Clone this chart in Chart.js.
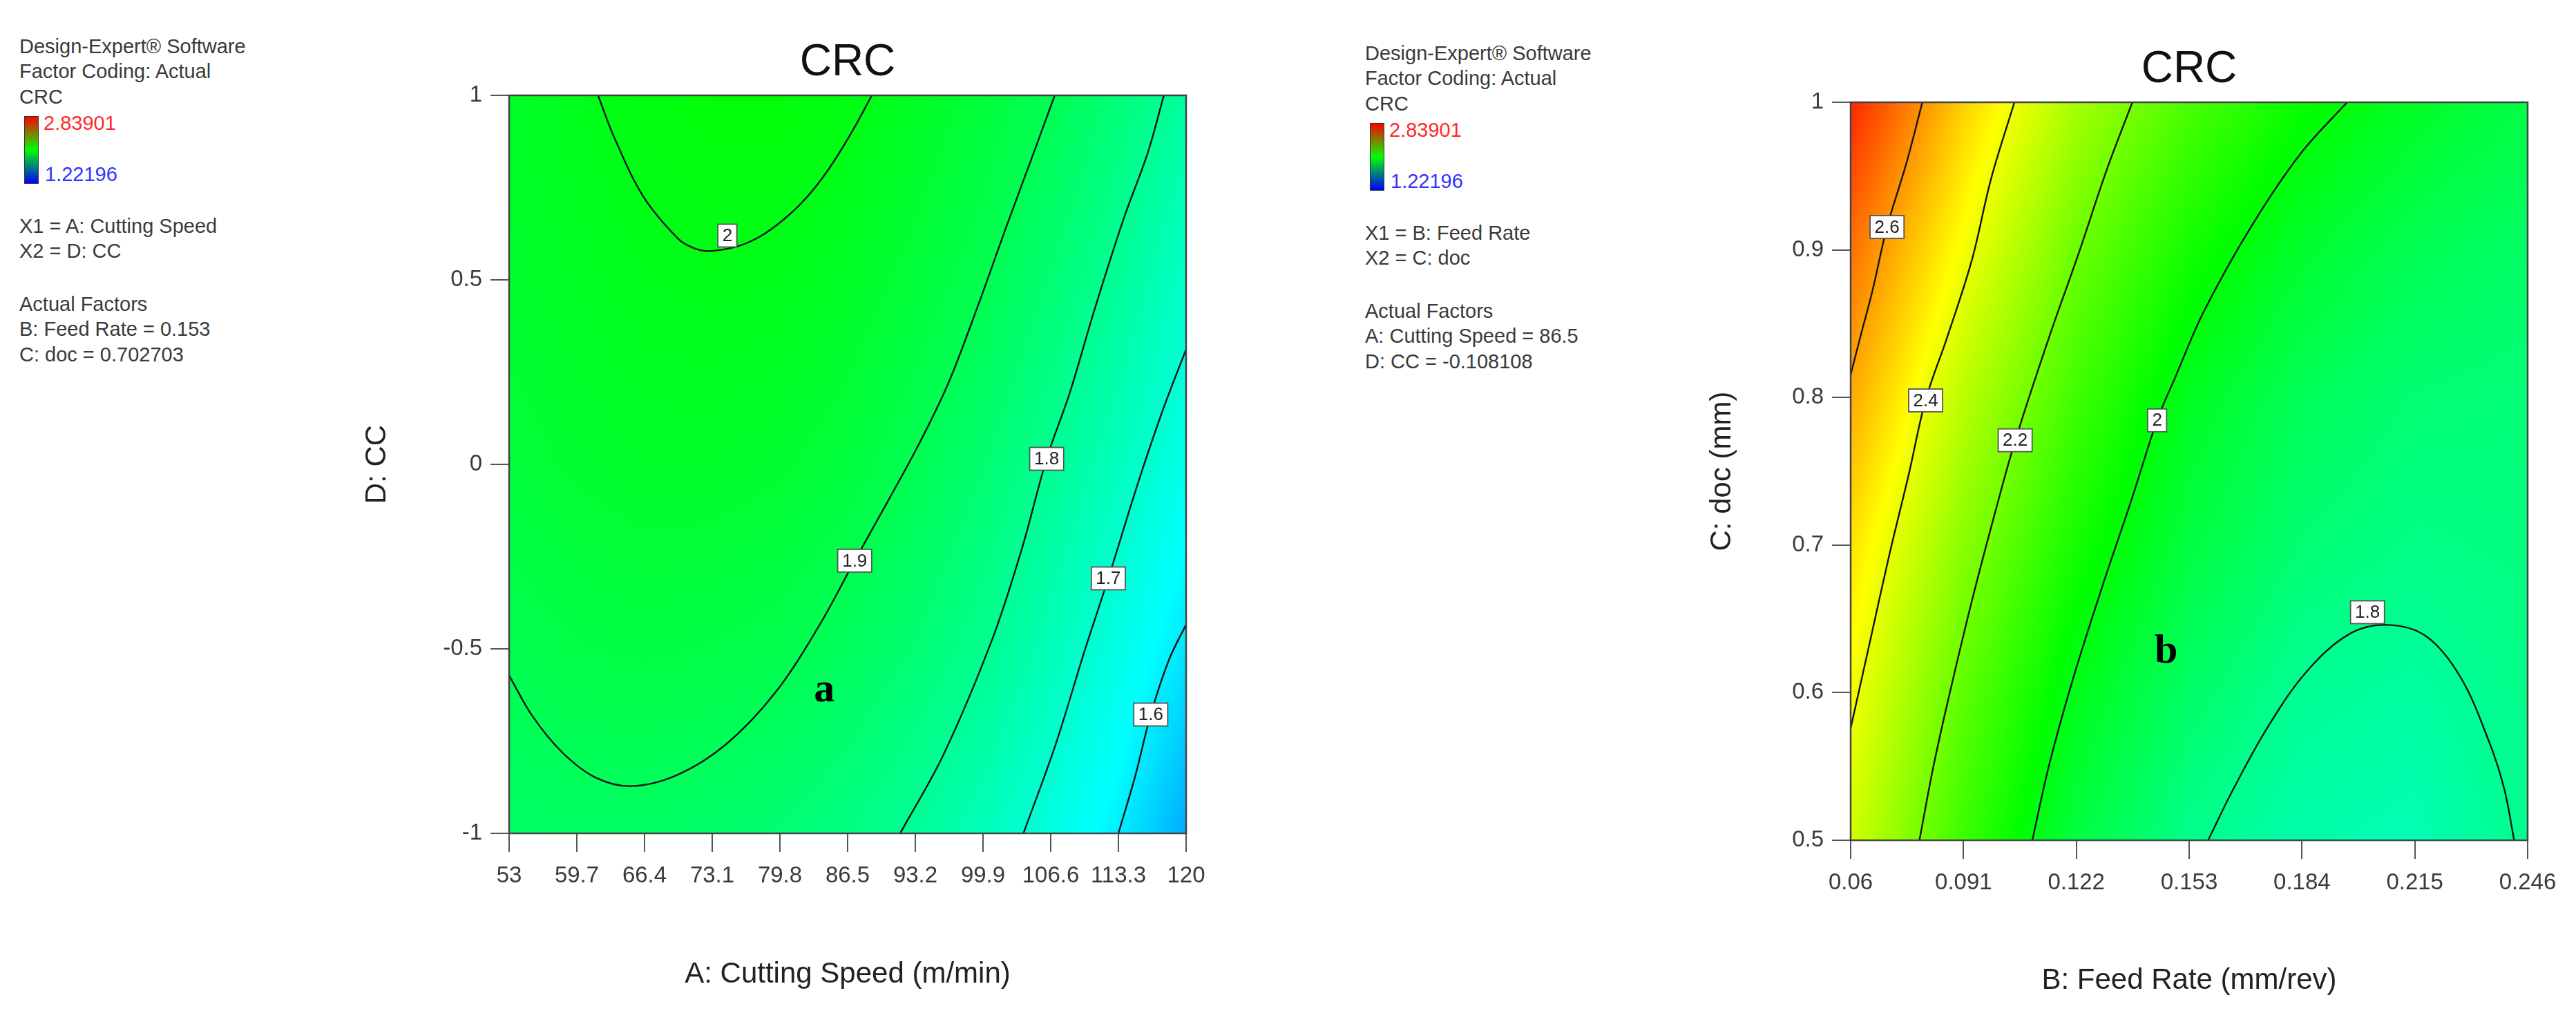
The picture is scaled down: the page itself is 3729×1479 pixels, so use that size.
<!DOCTYPE html>
<html><head><meta charset="utf-8">
<script src="https://cdn.jsdelivr.net/npm/chart.js@4.4.1/dist/chart.umd.min.js"></script>
<style>
html,body{margin:0;padding:0;background:#fff;overflow:hidden;width:3729px;height:1479px;position:relative;}
.panel{position:absolute;font-family:'Liberation Sans',Arial,sans-serif;font-size:29px;color:#3a3a3a;}
.ln{position:absolute;left:0;white-space:nowrap;line-height:36px;}
canvas{position:absolute;}
.cbar{position:absolute;left:7px;width:19px;height:96px;border:1px solid #333;background:linear-gradient(to bottom,#ff0000,#00ff00,#0000ff);}
</style></head><body>

<div class="panel" style="left:28px;top:0px;">
  <div class="ln" style="top:49px">Design-Expert® Software</div>
  <div class="ln" style="top:85px">Factor Coding: Actual</div>
  <div class="ln" style="top:122px">CRC</div>
  <div class="cbar" style="top:168px"></div>
  <div class="ln" style="top:160px;left:35px;color:#ff2a2a">2.83901</div>
  <div class="ln" style="top:234px;left:37px;color:#3333ff">1.22196</div>
  <div class="ln" style="top:309px">X1 = A: Cutting Speed</div>
  <div class="ln" style="top:345px">X2 = D: CC</div>
  <div class="ln" style="top:422px">Actual Factors</div>
  <div class="ln" style="top:458px">B: Feed Rate = 0.153</div>
  <div class="ln" style="top:495px">C: doc = 0.702703</div>
</div>

<div class="panel" style="left:1976px;top:10px;">
  <div class="ln" style="top:49px">Design-Expert® Software</div>
  <div class="ln" style="top:85px">Factor Coding: Actual</div>
  <div class="ln" style="top:122px">CRC</div>
  <div class="cbar" style="top:168px"></div>
  <div class="ln" style="top:160px;left:35px;color:#ff2a2a">2.83901</div>
  <div class="ln" style="top:234px;left:37px;color:#3333ff">1.22196</div>
  <div class="ln" style="top:309px">X1 = B: Feed Rate</div>
  <div class="ln" style="top:345px">X2 = C: doc</div>
  <div class="ln" style="top:422px">Actual Factors</div>
  <div class="ln" style="top:458px">A: Cutting Speed = 86.5</div>
  <div class="ln" style="top:495px">D: CC = -0.108108</div>
</div>

<canvas id="cL" width="1554" height="1479" style="left:450px;top:0px;"></canvas>
<canvas id="cR" width="1558" height="1469" style="left:2390px;top:10px;"></canvas>

<script>
// ---------- colour scale range (from legend) ----------
const crcRange = [1.22196, 2.83901];

// ---------- LEFT PANEL: A (cutting speed) vs D (CC) ----------
const leftXTicks = [53, 59.7, 66.4, 73.1, 79.8, 86.5, 93.2, 99.9, 106.6, 113.3, 120];
const leftXTickLabels = ['53','59.7','66.4','73.1','79.8','86.5','93.2','99.9','106.6','113.3','120'];
const leftYTicks = [-1, -0.5, 0, 0.5, 1];
const leftYTickLabels = ['-1','-0.5','0','0.5','1'];

// estimated CRC values on a coarse grid (rows = D values)
const leftGridX = [53, 59.7, 66.4, 73.1, 79.8, 86.5, 93.2, 99.9, 106.6, 113.3, 120];
const leftGridY = [-1, -0.5, 0, 0.5, 1];
const leftGridZ = [
  [1.870, 1.875, 1.875, 1.865, 1.850, 1.825, 1.790, 1.735, 1.675, 1.600, 1.495],
  [1.905, 1.920, 1.925, 1.920, 1.910, 1.885, 1.850, 1.805, 1.740, 1.670, 1.585],
  [1.940, 1.955, 1.965, 1.965, 1.955, 1.935, 1.900, 1.855, 1.797, 1.730, 1.660],
  [1.960, 1.975, 1.990, 1.995, 1.990, 1.970, 1.940, 1.905, 1.850, 1.790, 1.710],
  [1.970, 1.990, 2.010, 2.020, 2.020, 2.005, 1.975, 1.939, 1.902, 1.842, 1.780]
];

// contour lines  [A, D]
const leftContour2_0 = [[61.8,1],[63.4,0.886],[66.3,0.725],[69.7,0.612],[71.2,0.587],[72.8,0.578],[75.5,0.590],[77.8,0.617],[80.1,0.662],[82.4,0.722],[84.7,0.803],[86.9,0.900],[88.9,1]];
const leftContour1_9 = [[53,-0.572],[55.3,-0.682],[58.2,-0.779],[61.5,-0.848],[65.1,-0.872],[69.7,-0.841],[74.5,-0.758],[79.3,-0.620],[83.6,-0.441],[87.2,-0.261],[90.3,-0.109],[93.6,0.057],[96.5,0.222],[99.4,0.430],[102.3,0.651],[105.1,0.858],[107.0,1]];
const leftContour1_8 = [[91.7,-1],[96.0,-0.786],[100.8,-0.475],[103.7,-0.233],[106.2,0.015],[108.5,0.195],[110.9,0.416],[113.8,0.664],[116.2,0.844],[117.8,1]];
const leftContour1_7 = [[103.9,-1],[107.1,-0.758],[109.9,-0.510],[112.3,-0.309],[115.2,-0.054],[117.6,0.140],[120,0.312]];
const leftContour1_6 = [[113.3,-1],[115.0,-0.841],[116.5,-0.678],[118.3,-0.530],[120,-0.434]];

const leftLabelText = ['2', '1.9', '1.8', '1.7', '1.6'];
const leftLabelX = [74.6, 87.2, 106.2, 112.3, 116.5];
const leftLabelY = [0.62, -0.261, 0.015, -0.309, -0.678];
const leftMark = ['a', 84.2, -0.613];

// ---------- RIGHT PANEL: B (feed rate) vs C (doc) ----------
const rightXTicks = [0.06, 0.091, 0.122, 0.153, 0.184, 0.215, 0.246];
const rightXTickLabels = ['0.06','0.091','0.122','0.153','0.184','0.215','0.246'];
const rightYTicks = [0.5, 0.6, 0.7, 0.8, 0.9, 1];
const rightYTickLabels = ['0.5','0.6','0.7','0.8','0.9','1'];

const rightGridX = [0.06, 0.091, 0.122, 0.153, 0.184, 0.215, 0.246];
const rightGridY = [0.5, 0.6, 0.7, 0.8, 0.9, 1.0];
const rightGridZ = [
  [2.36, 2.122, 1.930, 1.810, 1.760, 1.745, 1.805],
  [2.42, 2.179, 1.990, 1.870, 1.795, 1.775, 1.815],
  [2.48, 2.248, 2.062, 1.930, 1.850, 1.820, 1.830],
  [2.57, 2.324, 2.130, 1.980, 1.890, 1.850, 1.840],
  [2.66, 2.420, 2.201, 2.061, 1.960, 1.900, 1.870],
  [2.78, 2.510, 2.295, 2.147, 2.042, 1.970, 1.920]
];

const rightContour2_6 = [[0.0797,1],[0.0753,0.9586],[0.0700,0.9155],[0.0660,0.8724],[0.0627,0.8414],[0.0600,0.8155]];
const rightContour2_4 = [[0.1050,1],[0.0986,0.9483],[0.0933,0.8931],[0.0866,0.8414],[0.0806,0.7983],[0.0760,0.7483],[0.0706,0.6931],[0.0653,0.6345],[0.0600,0.5759]];
const rightContour2_2 = [[0.1374,1],[0.1305,0.9552],[0.1225,0.8966],[0.1146,0.8414],[0.1052,0.7707],[0.0999,0.7241],[0.0933,0.6621],[0.0866,0.5931],[0.0826,0.5483],[0.0789,0.5]];
const rightContour2_0 = [[0.1964,1],[0.1837,0.9655],[0.1704,0.9172],[0.1571,0.8586],[0.1492,0.8138],[0.1442,0.7845],[0.1372,0.7310],[0.1292,0.6724],[0.1212,0.6103],[0.1146,0.5517],[0.1099,0.5]];
const rightContour1_8 = [[0.1582,0.5],[0.1651,0.5345],[0.1744,0.5759],[0.1851,0.6138],[0.1970,0.6397],[0.2077,0.6459],[0.2183,0.6379],[0.2276,0.6103],[0.2356,0.5655],[0.2396,0.5345],[0.2423,0.5]];

const rightLabelText = ['2.6', '2.4', '2.2', '2', '1.8'];
const rightLabelX = [0.0700, 0.0806, 0.1052, 0.1442, 0.2020];
const rightLabelY = [0.9155, 0.798, 0.771, 0.7845, 0.6545];
const rightMark = ['b', 0.1467, 0.6276];

// ---------- helpers ----------
const FONT = "'Liberation Sans', Arial, sans-serif";

function crcColor(v) {
  let t = (v - crcRange[0]) / (crcRange[1] - crcRange[0]);
  t = Math.max(0, Math.min(1, t));
  const stops = [[0,0,255],[0,255,255],[0,255,0],[255,255,0],[255,0,0]];
  const s = t * 4;
  const k = Math.min(3, Math.floor(s));
  const f = s - k;
  return stops[k].map((c, i) => Math.round(c + (stops[k+1][i] - c) * f));
}
function cellIndex(g, v) {
  let i = 0;
  while (i < g.length - 2 && v > g[i+1]) i++;
  return i;
}
function gridValue(gx, gy, gz, xv, yv) {
  const i = cellIndex(gx, xv), j = cellIndex(gy, yv);
  const tx = Math.max(0, Math.min(1, (xv - gx[i]) / (gx[i+1] - gx[i])));
  const ty = Math.max(0, Math.min(1, (yv - gy[j]) / (gy[j+1] - gy[j])));
  return gz[j][i]*(1-tx)*(1-ty) + gz[j][i+1]*tx*(1-ty) + gz[j+1][i]*(1-tx)*ty + gz[j+1][i+1]*tx*ty;
}

function makePanel(canvasId, cfg) {
  const heatPlugin = {
    id: 'heat',
    beforeDatasetsDraw(chart) {
      const {ctx, chartArea: a, scales: {x, y}} = chart;
      const w = Math.round(a.right - a.left), h = Math.round(a.bottom - a.top);
      const off = document.createElement('canvas');
      off.width = w; off.height = h;
      const octx = off.getContext('2d');
      const img = octx.createImageData(w, h);
      const xs = new Float64Array(w);
      for (let i = 0; i < w; i++) xs[i] = x.getValueForPixel(a.left + i + 0.5);
      for (let j = 0; j < h; j++) {
        const yv = y.getValueForPixel(a.top + j + 0.5);
        for (let i = 0; i < w; i++) {
          const c = crcColor(gridValue(cfg.gx, cfg.gy, cfg.gz, xs[i], yv));
          const p = (j * w + i) * 4;
          img.data[p] = c[0]; img.data[p+1] = c[1]; img.data[p+2] = c[2]; img.data[p+3] = 255;
        }
      }
      octx.putImageData(img, 0, 0);
      ctx.drawImage(off, a.left, a.top, a.right - a.left, a.bottom - a.top);
    },
    afterDatasetsDraw(chart) {
      const {ctx, chartArea: a, scales: {x, y}} = chart;
      ctx.save();
      ctx.strokeStyle = '#444'; ctx.lineWidth = 2.5;
      ctx.strokeRect(a.left, a.top, a.right - a.left, a.bottom - a.top);
      ctx.font = '26px ' + FONT;
      ctx.textAlign = 'center'; ctx.textBaseline = 'middle';
      for (let k = 0; k < cfg.labelText.length; k++) {
        const px = x.getPixelForValue(cfg.labelX[k]);
        const py = y.getPixelForValue(cfg.labelY[k]);
        const tw = ctx.measureText(cfg.labelText[k]).width;
        const bw = tw + 13, bh = 33;
        ctx.fillStyle = '#fff';
        ctx.fillRect(px - bw/2, py - bh/2, bw, bh);
        ctx.strokeStyle = '#555'; ctx.lineWidth = 1.8;
        ctx.strokeRect(px - bw/2, py - bh/2, bw, bh);
        ctx.fillStyle = '#222';
        ctx.fillText(cfg.labelText[k], px, py + 1);
      }
      ctx.font = "bold 60px 'Liberation Serif', 'Times New Roman', serif";
      ctx.fillStyle = '#000';
      ctx.fillText(cfg.mark[0], x.getPixelForValue(cfg.mark[1]), y.getPixelForValue(cfg.mark[2]));
      ctx.restore();
    }
  };

  const datasets = cfg.contours.map(c => ({
    data: c.map(p => ({x: p[0], y: p[1]})),
    showLine: true, pointRadius: 0, borderColor: '#151515', borderWidth: 2.4,
    tension: 0.35, fill: false
  }));

  return new Chart(document.getElementById(canvasId), {
    type: 'scatter',
    data: { datasets },
    plugins: [heatPlugin],
    options: {
      responsive: false, animation: false, devicePixelRatio: 1,
      layout: { padding: 0 },
      plugins: {
        legend: { display: false }, tooltip: { enabled: false },
        title: { display: true, text: 'CRC', color: '#111',
          font: { family: FONT, size: 64, weight: 'normal', lineHeight: 1.2 },
          padding: { top: 52.6, bottom: 8.6 } }
      },
      scales: {
        x: {
          type: 'linear', position: 'bottom', min: cfg.xTicks[0], max: cfg.xTicks[cfg.xTicks.length - 1],
          afterBuildTicks: s => { s.ticks = cfg.xTicks.map(v => ({value: v})); },
          afterFit: s => { s.height = cfg.xScaleH; },
          ticks: { callback: (v, i) => cfg.xLabels[i], font: { family: FONT, size: 33 }, color: '#3a3a3a',
                   padding: 15, maxRotation: 0, minRotation: 0, autoSkip: false },
          grid: { drawOnChartArea: false, drawTicks: true, tickLength: 27, color: '#555', lineWidth: 2 },
          border: { display: true, color: '#444', width: 2 },
          title: { display: true, text: cfg.xTitle, color: '#222', font: { family: FONT, size: 42, lineHeight: 1.2 },
                   padding: { top: 0, bottom: cfg.xTitlePad } }
        },
        y: {
          type: 'linear', position: 'left', min: cfg.yTicks[0], max: cfg.yTicks[cfg.yTicks.length - 1],
          afterBuildTicks: s => { s.ticks = cfg.yTicks.map(v => ({value: v})); },
          afterFit: s => { s.width = cfg.yScaleW; },
          ticks: { callback: (v, i) => cfg.yLabels[i], font: { family: FONT, size: 33 }, color: '#3a3a3a', padding: 12, autoSkip: false },
          grid: { drawOnChartArea: false, drawTicks: true, tickLength: 27, color: '#555', lineWidth: 2 },
          border: { display: true, color: '#444', width: 2 },
          title: { display: true, text: cfg.yTitle, color: '#222', font: { family: FONT, size: 42, lineHeight: 1.2 },
                   padding: { top: cfg.yTitlePad, bottom: 0 } }
        },
        // invisible right-hand spacer axis so the title centres over the plot
        ySpacer: {
          type: 'linear', position: 'right', min: 0, max: 1,
          afterFit: s => { s.width = cfg.yScaleW; },
          ticks: { display: false }, grid: { display: false }, border: { display: false },
          title: { display: false }
        }
      }
    }
  });
}

makePanel('cL', {
  gx: leftGridX, gy: leftGridY, gz: leftGridZ,
  contours: [leftContour2_0, leftContour1_9, leftContour1_8, leftContour1_7, leftContour1_6],
  labelText: leftLabelText, labelX: leftLabelX, labelY: leftLabelY, mark: leftMark,
  xTicks: leftXTicks, xLabels: leftXTickLabels, yTicks: leftYTicks, yLabels: leftYTickLabels,
  xTitle: 'A: Cutting Speed (m/min)', yTitle: 'D: CC',
  yScaleW: 287, xScaleH: 273, xTitlePad: 43.8, yTitlePad: 70.8
});

makePanel('cR', {
  gx: rightGridX, gy: rightGridY, gz: rightGridZ,
  contours: [rightContour2_6, rightContour2_4, rightContour2_2, rightContour2_0, rightContour1_8],
  labelText: rightLabelText, labelX: rightLabelX, labelY: rightLabelY, mark: rightMark,
  xTicks: rightXTicks, xLabels: rightXTickLabels, yTicks: rightYTicks, yLabels: rightYTickLabels,
  xTitle: 'B: Feed Rate (mm/rev)', yTitle: 'C: doc (mm)',
  yScaleW: 289, xScaleH: 263, xTitlePad: 34.8, yTitlePad: 77.8
});
</script>
</body></html>
